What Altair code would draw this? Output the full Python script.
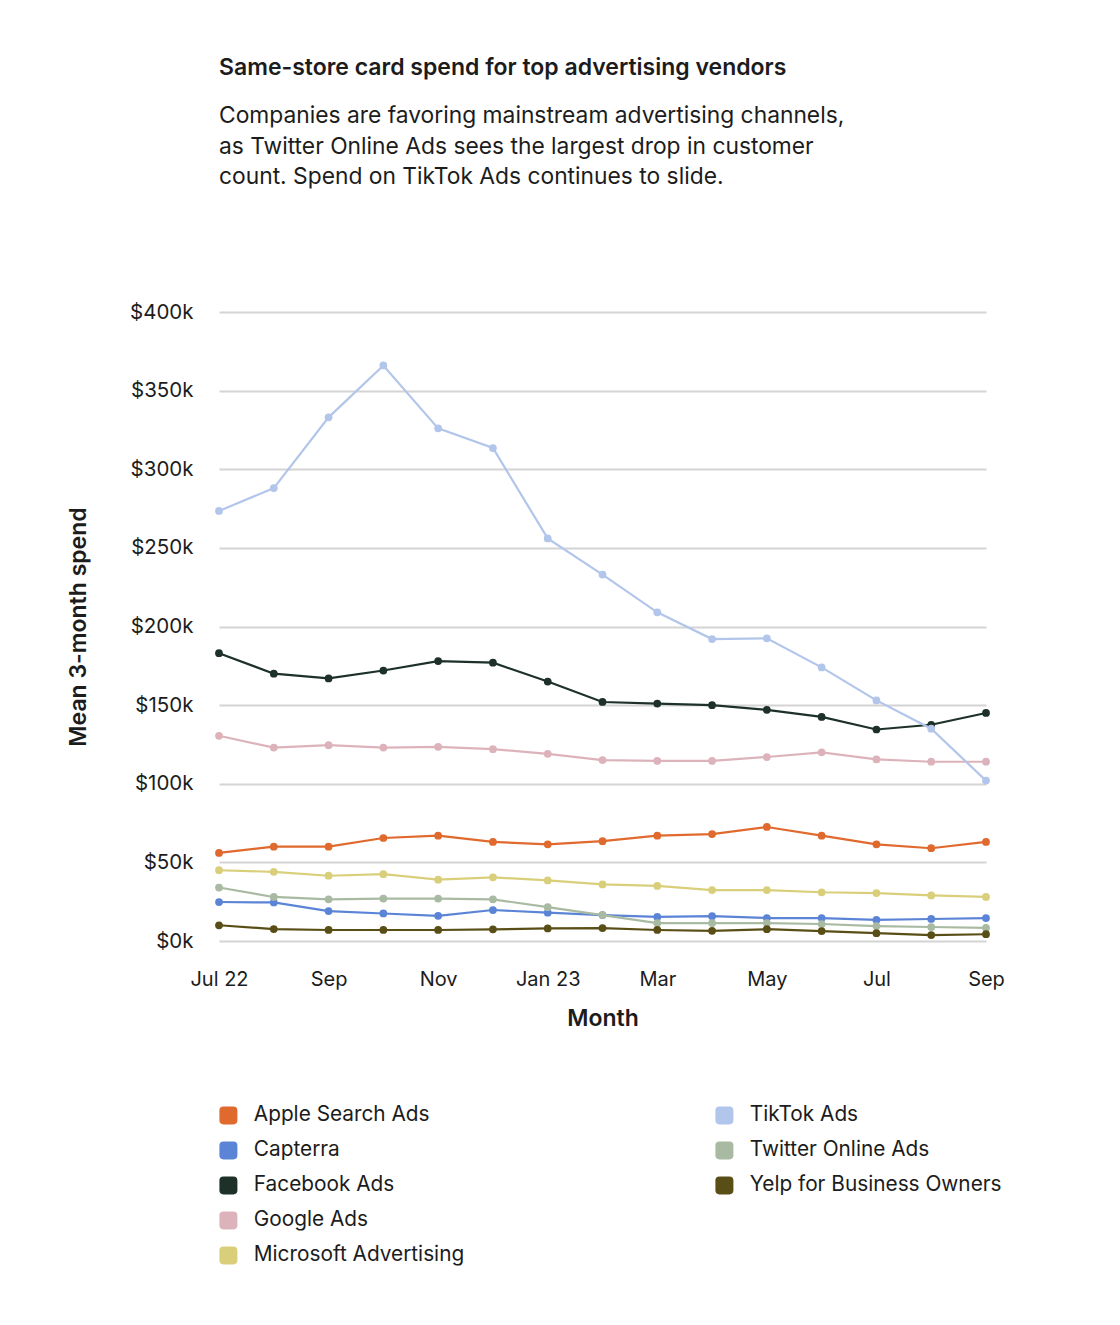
import altair as alt
import pandas as pd

MONTHS = ["Jul 22", "Aug", "Sep", "Oct", "Nov", "Dec", "Jan 23", "Feb",
          "Mar", "Apr", "May", "Jun", "Jul", "Aug", "Sep"]

SERIES_A = ["Apple Search Ads", "Capterra", "Facebook Ads", "Google Ads",
            "Microsoft Advertising"]
SERIES_B = ["TikTok Ads", "Twitter Online Ads", "Yelp for Business Owners"]

COLORS_A = ["#E0692E", "#5B84D6", "#1D3129", "#DDB3BB", "#D9CF7A"]
COLORS_B = ["#B2C5EA", "#A9BAA2", "#5A4E17"]

# values in $k
apple = [56, 60, 60, 65.5, 67, 63, 61.5, 63.5, 67, 68, 72.5, 67, 61.5, 59, 63]
capterra = [24.8, 24.5, 19, 17.5, 16, 19.7, 18, 16.5, 15.3, 15.8, 14.6, 14.6, 13.4, 14, 14.6]
facebook = [183, 170, 167, 172, 178, 177, 165, 152, 151, 150, 147, 142.5, 134.5, 137.5, 145]
google = [130.5, 123, 124.5, 123, 123.5, 122, 119, 115, 114.5, 114.5, 117, 120, 115.5, 114, 114]
microsoft = [45, 44, 41.5, 42.5, 39, 40.5, 38.5, 36, 35, 32.4, 32.4, 31, 30.5, 29, 28]
tiktok = [273.5, 288, 333, 366, 326, 313.5, 256, 233, 209, 192, 192.5, 174, 153, 135, 102]
twitter = [34, 28, 26.5, 27, 27, 26.5, 21.5, 16.5, 11.4, 11.4, 11.4, 10.8, 9.5, 8.9, 8.3]
yelp = [10, 7.6, 7, 7, 7, 7.4, 8, 8.2, 7, 6.5, 7.5, 6.3, 5, 3.8, 4.3]

VALUES_A = [apple, capterra, facebook, google, microsoft]
VALUES_B = [tiktok, twitter, yelp]

Y_TICKS = [0, 50, 100, 150, 200, 250, 300, 350, 400]
X_TICKS = [0, 2, 4, 6, 8, 10, 12, 14]

TITLE = "Same-store card spend for top advertising vendors"
SUBTITLE = ["Companies are favoring mainstream advertising channels,",
            "as Twitter Online Ads sees the largest drop in customer",
            "count. Spend on TikTok Ads continues to slide."]

FONT = "Inter"
INK = "#1c1c1c"
ROUNDED = ("M -0.55 -1 H 0.55 Q 1 -1 1 -0.55 V 0.55 Q 1 1 0.55 1 H -0.55 "
           "Q -1 1 -1 0.55 V -0.55 Q -1 -1 -0.55 -1 Z")


def frame(names, values):
    rows = []
    for n, vals in zip(names, values):
        for i, v in enumerate(vals):
            rows.append({"vendor": n, "idx": i, "month": MONTHS[i], "spend": v})
    return pd.DataFrame(rows)


label_expr = "[" + ",".join("'%s'" % m for m in MONTHS) + "][datum.value]"

x_enc = alt.X(
    "idx:Q",
    scale=alt.Scale(domain=[0, len(MONTHS) - 1], nice=False, zero=False),
    axis=alt.Axis(values=X_TICKS, labelExpr=label_expr, title="Month",
                  grid=False, domain=False, ticks=False, labelPadding=28,
                  labelFlush=False, labelFontSize=20, labelFont=FONT,
                  labelColor=INK, titleFontSize=23, titleFont=FONT,
                  titleFontWeight=600, titleColor=INK,
                  titleBaseline="middle", titleY=77),
)
y_enc = alt.Y(
    "spend:Q",
    scale=alt.Scale(domain=[0, 400], nice=False),
    axis=alt.Axis(values=Y_TICKS, labelExpr="'$' + datum.value + 'k'",
                  title="Mean 3-month spend", grid=True, gridColor="#d4d4d4",
                  gridWidth=2, domain=False, ticks=False, labelPadding=26,
                  labelFontSize=20.5, labelFont=FONT, labelColor=INK,
                  titleFontSize=23, titleFont=FONT, titleFontWeight=600,
                  titleColor=INK, titleAngle=270, titleAlign="center",
                  titleBaseline="middle", titleX=-141, titleY=314.5),
)


def make_legend(lx, ly):
    return alt.Legend(orient="none", legendX=lx, legendY=ly,
                      direction="vertical", title=None,
                      symbolType=ROUNDED, symbolSize=324,
                      symbolStrokeWidth=0, symbolOpacity=1,
                      labelFontSize=20.8, labelFont=FONT, labelColor=INK,
                      labelOffset=15, rowPadding=13, labelLimit=500)


df_a = frame(SERIES_A, VALUES_A)
df_b = frame(SERIES_B, VALUES_B)

lines_a = alt.Chart(df_a).mark_line(strokeWidth=2.2).encode(
    x=x_enc, y=y_enc,
    stroke=alt.Stroke("vendor:N", scale=alt.Scale(domain=SERIES_A, range=COLORS_A),
                      legend=None))
pts_a = alt.Chart(df_a).mark_circle(size=60, opacity=1).encode(
    x=x_enc, y=y_enc,
    color=alt.Color("vendor:N", scale=alt.Scale(domain=SERIES_A, range=COLORS_A),
                    legend=make_legend(-1, 793)))
lines_b = alt.Chart(df_b).mark_line(strokeWidth=2.2).encode(
    x=x_enc, y=y_enc,
    stroke=alt.Stroke("vendor:N", scale=alt.Scale(domain=SERIES_B, range=COLORS_B),
                      legend=None))
pts_b = alt.Chart(df_b).mark_circle(size=60, opacity=1).encode(
    x=x_enc, y=y_enc,
    color=alt.Color("vendor:N", scale=alt.Scale(domain=SERIES_B, range=COLORS_B),
                    legend=make_legend(495, 793)))

chart = alt.layer(lines_a, pts_a, lines_b, pts_b).resolve_scale(
    color="independent", stroke="independent"
).properties(
    width=767,
    height=629,
    background="white",
    autosize=alt.AutoSizeParams(type="none"),
    padding={"left": 219, "top": 312, "right": 134, "bottom": 384},
    title=alt.TitleParams(
        text=TITLE, subtitle=SUBTITLE, anchor="start", frame="group",
        font=FONT, fontSize=23, fontWeight=600, color=INK,
        subtitleFont=FONT, subtitleFontSize=22.8, subtitleColor=INK,
        subtitleLineHeight=30.5, subtitlePadding=25, offset=113,
    ),
).configure_view(strokeWidth=0)

chart.save("out.html", embed_options={"renderer": "svg", "actions": False})
